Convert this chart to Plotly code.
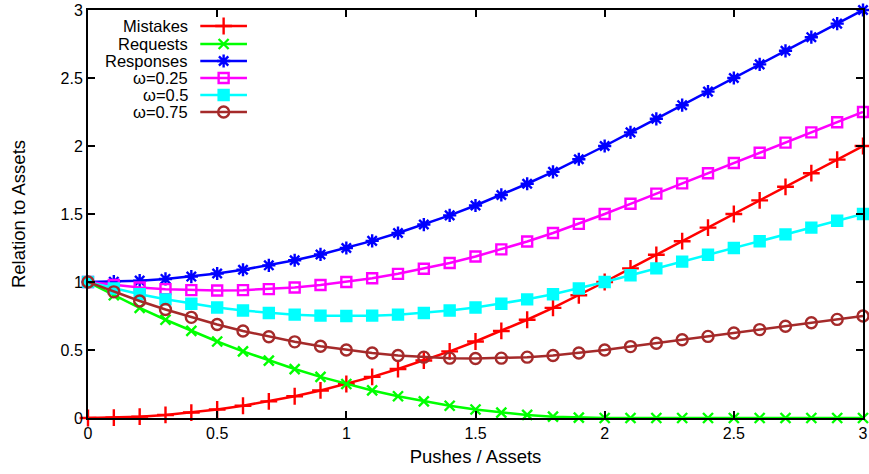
import plotly.graph_objects as go

x = [round(i * 0.1, 1) for i in range(31)]

mistakes = [0, 0.0025, 0.01, 0.0225, 0.04, 0.0625, 0.09, 0.1225, 0.16, 0.2025, 0.25,
            0.3025, 0.36, 0.4225, 0.49, 0.5625, 0.64, 0.7225, 0.81, 0.9025, 1.0,
            1.1, 1.2, 1.3, 1.4, 1.5, 1.6, 1.7, 1.8, 1.9, 2.0]
requests = [1, 0.9025, 0.81, 0.7225, 0.64, 0.5625, 0.49, 0.4225, 0.36, 0.3025, 0.25,
            0.2025, 0.16, 0.1225, 0.09, 0.0625, 0.04, 0.0225, 0.01, 0.0025, 0,
            0, 0, 0, 0, 0, 0, 0, 0, 0, 0]
responses = [1, 1.0025, 1.01, 1.0225, 1.04, 1.0625, 1.09, 1.1225, 1.16, 1.2025, 1.25,
             1.3025, 1.36, 1.4225, 1.49, 1.5625, 1.64, 1.7225, 1.81, 1.9025, 2.0,
             2.1, 2.2, 2.3, 2.4, 2.5, 2.6, 2.7, 2.8, 2.9, 3.0]
w025 = [1, 0.9775, 0.96, 0.9475, 0.94, 0.9375, 0.94, 0.9475, 0.96, 0.9775, 1.0,
        1.0275, 1.06, 1.0975, 1.14, 1.1875, 1.24, 1.2975, 1.36, 1.4275, 1.5,
        1.575, 1.65, 1.725, 1.8, 1.875, 1.95, 2.025, 2.1, 2.175, 2.25]
w050 = [1, 0.9525, 0.91, 0.8725, 0.84, 0.8125, 0.79, 0.7725, 0.76, 0.7525, 0.75,
        0.7525, 0.76, 0.7725, 0.79, 0.8125, 0.84, 0.8725, 0.91, 0.9525, 1.0,
        1.05, 1.1, 1.15, 1.2, 1.25, 1.3, 1.35, 1.4, 1.45, 1.5]
w075 = [1, 0.9275, 0.86, 0.7975, 0.74, 0.6875, 0.64, 0.5975, 0.56, 0.5275, 0.5,
        0.4775, 0.46, 0.4475, 0.44, 0.4375, 0.44, 0.4475, 0.46, 0.4775, 0.5,
        0.525, 0.55, 0.575, 0.6, 0.625, 0.65, 0.675, 0.7, 0.725, 0.75]

names = ["Mistakes", "Requests", "Responses", "ω=0.25", "ω=0.5", "ω=0.75"]
series = [mistakes, requests, responses, w025, w050, w075]
colors = ["#ff0000", "#00ff00", "#0000ff", "#ff00ff", "#00ffff", "#a52a2a"]
symbols = ["cross-thin-open", "x-thin-open", "asterisk-open", "square-open", "square", "circle-open"]
sizes = [12, 10, 11, 10, 10, 11]

xticks = [0, 0.5, 1, 1.5, 2, 2.5, 3]
yticks = [0, 0.5, 1, 1.5, 2, 2.5, 3]

FONT = "Liberation Sans, Arial, sans-serif"

fig = go.Figure()
for name, ys, c, s, sz in zip(names, series, colors, symbols, sizes):
    fig.add_trace(go.Scatter(
        x=x, y=ys, mode="lines+markers", name=name, showlegend=False,
        line=dict(color=c, width=2.5),
        marker=dict(symbol=s, size=sz, color=c, line=dict(color=c, width=2.4)),
        cliponaxis=False,
    ))

# custom gnuplot-style legend (text right, sample on the right)
row_y = [26, 44, 61, 78, 95, 112]
annotations = []
for i, (name, c, s, sz) in enumerate(zip(names, colors, symbols, sizes)):
    yy = row_y[i]
    fig.add_trace(go.Scatter(
        x=[201, 248], y=[yy, yy], mode="lines", xaxis="x2", yaxis="y2",
        line=dict(color=c, width=2.5), showlegend=False, hoverinfo="skip"))
    fig.add_trace(go.Scatter(
        x=[224.5], y=[yy], mode="markers", xaxis="x2", yaxis="y2",
        marker=dict(symbol=s, size=sz, color=c, line=dict(color=c, width=2.4)),
        showlegend=False, hoverinfo="skip"))
    annotations.append(dict(x=191, y=yy, xref="x2", yref="y2", text=name,
                            showarrow=False, xanchor="right", yanchor="middle",
                            font=dict(family=FONT, size=16.5, color="black")))

axis_common = dict(showline=True, linecolor="black", linewidth=2, mirror="ticks",
                   ticks="inside", ticklen=7, tickwidth=2, tickcolor="black",
                   showgrid=False, zeroline=False,
                   tickfont=dict(family=FONT, size=16, color="black"))

fig.update_layout(
    width=869, height=474,
    margin=dict(l=88, r=1, t=10, b=56),
    paper_bgcolor="white", plot_bgcolor="white",
    xaxis=dict(range=[0, 3], tickvals=xticks, ticktext=[str(v) for v in xticks],
               ticklabeloverflow="allow",
               title=dict(text="Pushes / Assets", font=dict(family=FONT, size=18.5, color="black"), standoff=9),
               **axis_common),
    yaxis=dict(range=[0, 3], tickvals=yticks, ticktext=[str(v) for v in yticks],
               ticklabeloverflow="allow",
               title=dict(text="Relation to Assets", font=dict(family=FONT, size=18.5, color="black"), standoff=30),
               **axis_common),
    xaxis2=dict(overlaying="x", range=[88, 868], visible=False),
    yaxis2=dict(overlaying="y", range=[418, 10], visible=False),
    annotations=annotations,
)

fig.write_html("out.html")
